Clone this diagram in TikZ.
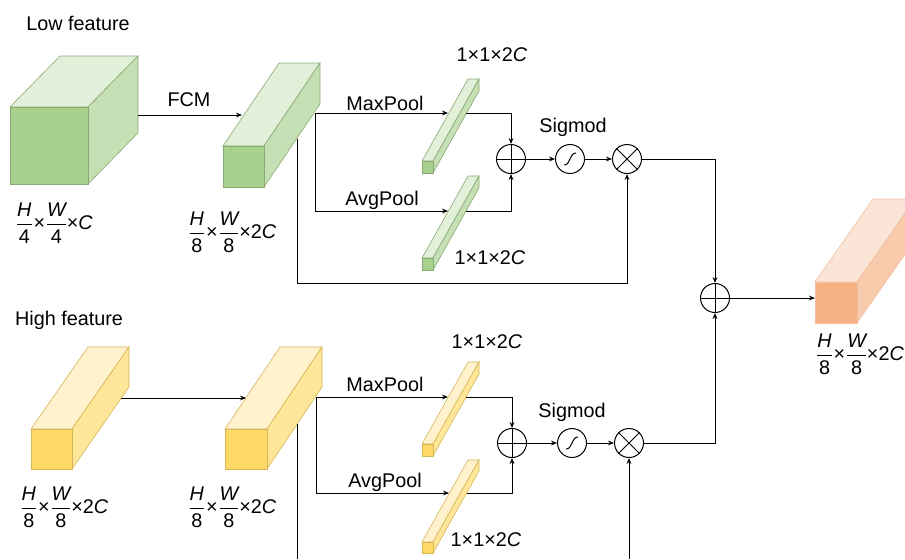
\documentclass[tikz,border=0pt]{standalone}
\usepackage{fontspec}
\usepackage{amsmath}
\setmainfont{Liberation Sans}
\usetikzlibrary{arrows.meta}

\definecolor{gfront}{HTML}{A9D18E}
\definecolor{gtop}{HTML}{E2F0D9}
\definecolor{gside}{HTML}{C5E0B4}
\definecolor{gedge}{HTML}{8AAA74}
\definecolor{yfront}{HTML}{FFD966}
\definecolor{ytop}{HTML}{FFF2CC}
\definecolor{yside}{HTML}{FFE699}
\definecolor{yedge}{HTML}{D6B656}
\definecolor{ofront}{HTML}{F4B183}
\definecolor{otop}{HTML}{FBE5D6}
\definecolor{oside}{HTML}{F8CBAD}
\definecolor{oedge}{HTML}{F0C0A0}

% front top-left corner, width, height, depth (dx, dy), colour prefix
\newcommand{\cuboid}[7]{%
  \draw[draw=#7edge, fill=#7top, line width=0.3pt] (#1,#2) -- ++(#5,-#6) -- ++(#3,0) -- ++(-#5,#6) -- cycle;
  \draw[draw=#7edge, fill=#7side, line width=0.3pt] (#1+#3,#2) -- ++(#5,-#6) -- ++(0,#4) -- ++(-#5,#6) -- cycle;
  \draw[draw=#7edge, fill=#7front, line width=0.3pt] (#1,#2) rectangle ++(#3,#4);
}
\newcommand{\dimlabel}[3]{{\nulldelimiterspace=0pt $\dfrac{\textit{H}}{\text{#1}}$\kern1pt×\kern1pt$\dfrac{\textit{W}}{\text{#2}}$\kern0.5pt×#3}}

\begin{document}
\begin{tikzpicture}[x=0.5pt, y=-0.5pt,
    txt/.style={font=\fontsize{9.9}{11.9}\selectfont, inner sep=0pt},
    op/.style={circle, draw, line width=0.5pt, minimum size=14.5pt, inner sep=0pt},
    link/.style={line width=0.5pt},
    flow/.style={link, -{Stealth[length=3pt, width=2.4pt]}}]

    \useasboundingbox (0,0) rectangle (905,559);

    % feature blocks
    \cuboid{10}{107}{78}{77}{50}{51}{g}
    \cuboid{223}{146}{41}{41}{56}{83}{g}
    \cuboid{422}{161}{11}{12}{46}{82}{g}
    \cuboid{422}{258}{11}{12}{46}{82}{g}
    \cuboid{31}{429}{41}{40}{57}{82}{y}
    \cuboid{225}{429}{42}{40}{55}{82}{y}
    \cuboid{422}{444}{11}{12}{46}{82}{y}
    \cuboid{422}{542}{11}{11}{46}{82}{y}
    \cuboid{815}{282}{42}{41}{58}{83}{o}

    % texts
    \node[txt] (lowtitle) at (78,23) {Low feature};
    \node[txt] (hightitle) at (69,320) {High feature};
    \node[txt] (fcm) at (189,100) {FCM};
    \node[txt] (lowdimA) at (55,223) {\dimlabel{4}{4}{\textit{C}}};
    \node[txt] (lowdimB) at (233,232) {\dimlabel{8}{8}{2\textit{C}}};
    \node[txt] (highdimA) at (65,507) {\dimlabel{8}{8}{2\textit{C}}};
    \node[txt] (highdimB) at (233,507) {\dimlabel{8}{8}{2\textit{C}}};
    \node[txt, anchor=west] (outdim) at (817,354) {\dimlabel{8}{8}{2\textit{C}}};
    \node[txt] (lowmax) at (385,103) {MaxPool};
    \node[txt] (lowavg) at (382,200) {AvgPool};
    \node[txt] (lowsizeA) at (492,55) {1×1×2\textit{C}};
    \node[txt] (lowsizeB) at (490,258) {1×1×2\textit{C}};
    \node[txt] (lowsig) at (573,127) {Sigmod};
    \node[txt] (highmax) at (385,384) {MaxPool};
    \node[txt] (highavg) at (385,482) {AvgPool};
    \node[txt] (highsizeA) at (487,342) {1×1×2\textit{C}};
    \node[txt] (highsizeB) at (486,540) {1×1×2\textit{C}};
    \node[txt] (highsig) at (572,412) {Sigmod};

    % operators
    \node[op] (addL) at (511,159) {};
    \node[op] (sigL) at (570,159) {};
    \node[op] (mulL) at (627,159) {};
    \node[op] (addH) at (512,443) {};
    \node[op] (sigH) at (572,443) {};
    \node[op] (mulH) at (629,443) {};
    \node[op] (addF) at (715,298) {};
    \foreach \n in {addL, addH, addF}
        \draw[link] (\n.north) -- (\n.south) (\n.west) -- (\n.east);
    \foreach \n in {mulL, mulH}
        \draw[link] (\n.north east) -- (\n.south west) (\n.north west) -- (\n.south east);
    \foreach \n in {sigL, sigH}
        \draw[link] ([shift={(-6,6)}]\n.center) .. controls ([shift={(1,6)}]\n.center) and ([shift={(-1,-6)}]\n.center) .. ([shift={(6,-6)}]\n.center);

    % anchor points on the blocks
    \coordinate (g1out) at (138,115);
    \coordinate (g2in) at (242,115);
    \coordinate (g2a) at (315,113);
    \coordinate (g2b) at (297,139);
    \coordinate (lowres) at (297,283);
    \coordinate (lowmaxin) at (448,113);
    \coordinate (lowmaxout) at (466,113);
    \coordinate (lowavgin) at (448,211);
    \coordinate (lowavgout) at (466,211);
    \coordinate (y1out) at (121,398);
    \coordinate (y2in) at (246,398);
    \coordinate (y2a) at (316,397);
    \coordinate (y2b) at (297,424);
    \coordinate (highres) at (297,559);
    \coordinate (highmaxin) at (448,397);
    \coordinate (highmaxout) at (466,397);
    \coordinate (highavgin) at (449,493);
    \coordinate (highavgout) at (467,493);
    \coordinate (mulHres) at (629,559);
    \coordinate (outin) at (815,298);

    % low branch
    \draw[flow] (g1out) -- (g2in);
    \draw[flow] (g2a) -- (lowmaxin);
    \draw[flow] (g2a) |- (lowavgin);
    \draw[flow] (lowmaxout) -| (addL);
    \draw[flow] (lowavgout) -| (addL);
    \draw[flow] (addL) -- (sigL);
    \draw[flow] (sigL) -- (mulL);
    \draw[flow] (g2b) -- (lowres) -| (mulL);

    % high branch
    \draw[flow] (y1out) -- (y2in);
    \draw[flow] (y2a) -- (highmaxin);
    \draw[flow] (y2a) |- (highavgin);
    \draw[flow] (highmaxout) -| (addH);
    \draw[flow] (highavgout) -| (addH);
    \draw[flow] (addH) -- (sigH);
    \draw[flow] (sigH) -- (mulH);
    \draw[link] (y2b) -- (highres);
    \draw[flow] (mulHres) -- (mulH);

    % fusion
    \draw[flow] (mulL) -| (addF);
    \draw[flow] (mulH) -| (addF);
    \draw[flow] (addF) -- (outin);
\end{tikzpicture}
\end{document}
